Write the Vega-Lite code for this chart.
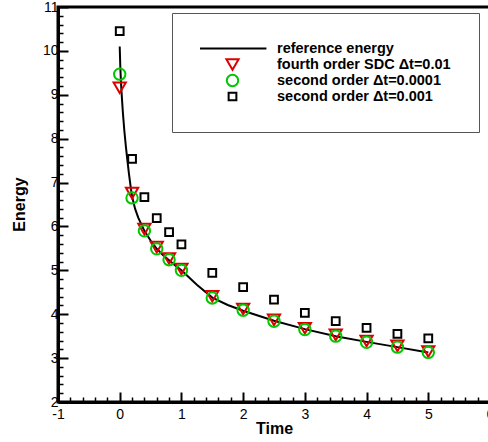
{
  "$schema": "https://vega.github.io/schema/vega-lite/v6.json",
  "width": 432,
  "height": 395,
  "autosize": {"type": "none"},
  "padding": {"left": 58, "top": 7, "right": 0, "bottom": 40},
  "background": "white",
  "config": {
    "view": {"stroke": "black", "strokeWidth": 3},
    "font": "Liberation Sans"
  },
  "resolve": {"axis": {"x": "independent", "y": "independent"}},
  "datasets": {
    "ref": [
      {"t": 0, "energy": 10.1},
      {"t": 0.01, "energy": 9.62},
      {"t": 0.02, "energy": 9.3},
      {"t": 0.03, "energy": 9.05},
      {"t": 0.05, "energy": 8.62},
      {"t": 0.075, "energy": 8.18},
      {"t": 0.1, "energy": 7.82},
      {"t": 0.125, "energy": 7.5},
      {"t": 0.15, "energy": 7.2},
      {"t": 0.175, "energy": 6.93},
      {"t": 0.2, "energy": 6.68},
      {"t": 0.25, "energy": 6.4},
      {"t": 0.3, "energy": 6.2},
      {"t": 0.4, "energy": 5.9},
      {"t": 0.5, "energy": 5.68},
      {"t": 0.6, "energy": 5.49},
      {"t": 0.7, "energy": 5.35},
      {"t": 0.8, "energy": 5.23},
      {"t": 0.9, "energy": 5.11},
      {"t": 1.0, "energy": 5.0},
      {"t": 1.25, "energy": 4.67},
      {"t": 1.5, "energy": 4.38},
      {"t": 1.75, "energy": 4.21},
      {"t": 2.0, "energy": 4.08},
      {"t": 2.5, "energy": 3.85},
      {"t": 3.0, "energy": 3.66},
      {"t": 3.5, "energy": 3.5},
      {"t": 4.0, "energy": 3.37},
      {"t": 4.5, "energy": 3.25},
      {"t": 5.0, "energy": 3.13}
    ],
    "pts": [
      {"t": 0, "energy": 10.45, "series": "second order Δt=0.001"},
      {"t": 0.2, "energy": 7.54, "series": "second order Δt=0.001"},
      {"t": 0.4, "energy": 6.67, "series": "second order Δt=0.001"},
      {"t": 0.6, "energy": 6.19, "series": "second order Δt=0.001"},
      {"t": 0.8, "energy": 5.87, "series": "second order Δt=0.001"},
      {"t": 1.0, "energy": 5.59, "series": "second order Δt=0.001"},
      {"t": 1.5, "energy": 4.94, "series": "second order Δt=0.001"},
      {"t": 2.0, "energy": 4.62, "series": "second order Δt=0.001"},
      {"t": 2.5, "energy": 4.33, "series": "second order Δt=0.001"},
      {"t": 3.0, "energy": 4.03, "series": "second order Δt=0.001"},
      {"t": 3.5, "energy": 3.84, "series": "second order Δt=0.001"},
      {"t": 4.0, "energy": 3.69, "series": "second order Δt=0.001"},
      {"t": 4.5, "energy": 3.55, "series": "second order Δt=0.001"},
      {"t": 5.0, "energy": 3.45, "series": "second order Δt=0.001"},
      {"t": 0, "energy": 9.16, "series": "fourth order SDC Δt=0.01"},
      {"t": 0.2, "energy": 6.76, "series": "fourth order SDC Δt=0.01"},
      {"t": 0.4, "energy": 5.94, "series": "fourth order SDC Δt=0.01"},
      {"t": 0.6, "energy": 5.53, "series": "fourth order SDC Δt=0.01"},
      {"t": 0.8, "energy": 5.27, "series": "fourth order SDC Δt=0.01"},
      {"t": 1.0, "energy": 5.03, "series": "fourth order SDC Δt=0.01"},
      {"t": 1.5, "energy": 4.41, "series": "fourth order SDC Δt=0.01"},
      {"t": 2.0, "energy": 4.12, "series": "fourth order SDC Δt=0.01"},
      {"t": 2.5, "energy": 3.87, "series": "fourth order SDC Δt=0.01"},
      {"t": 3.0, "energy": 3.68, "series": "fourth order SDC Δt=0.01"},
      {"t": 3.5, "energy": 3.53, "series": "fourth order SDC Δt=0.01"},
      {"t": 4.0, "energy": 3.39, "series": "fourth order SDC Δt=0.01"},
      {"t": 4.5, "energy": 3.28, "series": "fourth order SDC Δt=0.01"},
      {"t": 5.0, "energy": 3.15, "series": "fourth order SDC Δt=0.01"},
      {"t": 0, "energy": 9.47, "series": "second order Δt=0.0001"},
      {"t": 0.2, "energy": 6.65, "series": "second order Δt=0.0001"},
      {"t": 0.4, "energy": 5.9, "series": "second order Δt=0.0001"},
      {"t": 0.6, "energy": 5.49, "series": "second order Δt=0.0001"},
      {"t": 0.8, "energy": 5.24, "series": "second order Δt=0.0001"},
      {"t": 1.0, "energy": 5.0, "series": "second order Δt=0.0001"},
      {"t": 1.5, "energy": 4.37, "series": "second order Δt=0.0001"},
      {"t": 2.0, "energy": 4.09, "series": "second order Δt=0.0001"},
      {"t": 2.5, "energy": 3.84, "series": "second order Δt=0.0001"},
      {"t": 3.0, "energy": 3.65, "series": "second order Δt=0.0001"},
      {"t": 3.5, "energy": 3.5, "series": "second order Δt=0.0001"},
      {"t": 4.0, "energy": 3.36, "series": "second order Δt=0.0001"},
      {"t": 4.5, "energy": 3.25, "series": "second order Δt=0.0001"},
      {"t": 5.0, "energy": 3.13, "series": "second order Δt=0.0001"}
    ]
  },
  "layer": [
    {
      "data": {"name": "ref"},
      "mark": {"type": "line", "color": "black", "strokeWidth": 2},
      "encoding": {
        "x": {
          "field": "t",
          "type": "quantitative",
          "scale": {"domain": [-1, 6], "nice": false, "zero": false},
          "axis": {
            "orient": "bottom",
            "title": "Time",
            "values": [-1, 0, 1, 2, 3, 4, 5, 6],
            "labelExpr": "'' + datum.value",
            "tickSize": -10,
            "tickWidth": 2,
            "tickColor": "black",
            "domainColor": "black",
            "domainWidth": 3,
            "grid": false,
            "labelFont": "Liberation Sans",
            "labelFontSize": 14,
            "labelColor": "black",
            "labelPadding": 15,
            "labelFlush": false,
            "labelOverlap": false,
            "titleFont": "Liberation Sans",
            "titleFontSize": 16,
            "titleFontWeight": "bold",
            "titleColor": "black",
            "titleX": 216,
            "titleY": 31,
            "titleAlign": "center",
            "titleBaseline": "alphabetic"
          }
        },
        "y": {
          "field": "energy",
          "type": "quantitative",
          "scale": {"domain": [2, 11], "nice": false, "zero": false},
          "axis": {
            "orient": "left",
            "title": "Energy",
            "values": [2, 3, 4, 5, 6, 7, 8, 9, 10, 11],
            "labelExpr": "'' + datum.value",
            "tickSize": -10,
            "tickWidth": 2,
            "tickColor": "black",
            "domainColor": "black",
            "domainWidth": 3,
            "grid": false,
            "labelFont": "Liberation Sans",
            "labelFontSize": 14,
            "labelColor": "black",
            "labelPadding": 10,
            "labelFlush": false,
            "labelOverlap": false,
            "titleFont": "Liberation Sans",
            "titleFontSize": 16,
            "titleFontWeight": "bold",
            "titleColor": "black",
            "titleAngle": 270,
            "titleX": -33.5,
            "titleY": 197,
            "titleAlign": "center",
            "titleBaseline": "alphabetic"
          }
        }
      }
    },
    {
      "data": {"name": "pts"},
      "mark": {"type": "point", "filled": false, "strokeWidth": 2, "opacity": 1},
      "encoding": {
        "x": {
          "field": "t",
          "type": "quantitative",
          "axis": {
            "orient": "bottom",
            "title": null,
            "values": [-0.8, -0.6, -0.4, -0.2, 0.2, 0.4, 0.6, 0.8, 1.2, 1.4, 1.6, 1.8, 2.2, 2.4, 2.6, 2.8, 3.2, 3.4, 3.6, 3.8, 4.2, 4.4, 4.6, 4.8, 5.2, 5.4, 5.6, 5.8],
            "labels": false,
            "domain": false,
            "grid": false,
            "tickSize": -5,
            "tickWidth": 1.5,
            "tickColor": "black"
          }
        },
        "y": {
          "field": "energy",
          "type": "quantitative",
          "axis": {
            "orient": "left",
            "title": null,
            "values": [2.2, 2.4, 2.6, 2.8, 3.2, 3.4, 3.6, 3.8, 4.2, 4.4, 4.6, 4.8, 5.2, 5.4, 5.6, 5.8, 6.2, 6.4, 6.6, 6.8, 7.2, 7.4, 7.6, 7.8, 8.2, 8.4, 8.6, 8.8, 9.2, 9.4, 9.6, 9.8, 10.2, 10.4, 10.6, 10.8],
            "labels": false,
            "domain": false,
            "grid": false,
            "tickSize": -5,
            "tickWidth": 1.5,
            "tickColor": "black"
          }
        },
        "color": {
          "field": "series",
          "type": "nominal",
          "scale": {
            "domain": ["reference energy", "fourth order SDC Δt=0.01", "second order Δt=0.0001", "second order Δt=0.001"],
            "range": ["black", "#dd0000", "#00c800", "black"]
          },
          "legend": {
            "orient": "none",
            "legendX": 114,
            "legendY": 6,
            "title": null,
            "strokeColor": "#555555",
            "fillColor": "white",
            "padding": 28,
            "labelFont": "Liberation Sans",
            "labelFontSize": 14.5,
            "labelFontWeight": "bold",
            "labelColor": "black",
            "labelOffset": 37,
            "symbolOffset": 25,
            "labelLimit": 400,
            "rowPadding": 0,
            "clipHeight": 15,
            "symbolStrokeWidth": 2,
            "symbolOpacity": 1
          }
        },
        "shape": {
          "field": "series",
          "type": "nominal",
          "scale": {
            "domain": ["reference energy", "fourth order SDC Δt=0.01", "second order Δt=0.0001", "second order Δt=0.001"],
            "range": ["M-6,0L6,0", "triangle-down", "circle", "square"]
          }
        },
        "size": {
          "field": "series",
          "type": "nominal",
          "scale": {
            "type": "ordinal",
            "domain": ["reference energy", "fourth order SDC Δt=0.01", "second order Δt=0.0001", "second order Δt=0.001"],
            "range": [128, 150, 130, 60]
          }
        }
      }
    }
  ]
}
